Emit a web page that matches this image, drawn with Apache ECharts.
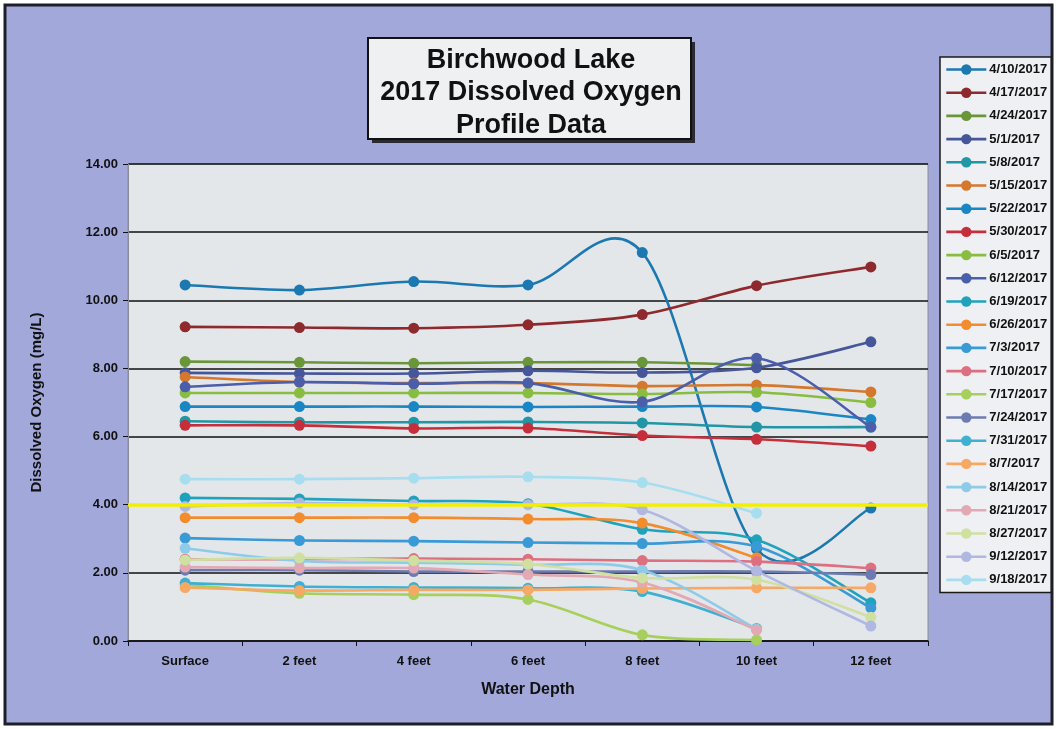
<!DOCTYPE html>
<html>
<head>
<meta charset="utf-8">
<script src="https://cdn.jsdelivr.net/npm/echarts@6/dist/echarts.min.js"></script>
<style>
  html, body { margin: 0; padding: 0; background: #ffffff; }
  #chart { width: 1056px; height: 729px; }
</style>
</head>
<body>
<div id="chart"></div>
<script>
// Sampling depths
const depths = ['Surface', '2 feet', '4 feet', '6 feet', '8 feet', '10 feet', '12 feet'];
const yTicks = [0, 2, 4, 6, 8, 10, 12, 14];

// Dissolved oxygen (mg/L) per sampling date, surface to 12 feet
const do_0410 = [10.45, 10.3, 10.55, 10.45, 11.4, 2.7, 3.9];
const do_0417 = [9.22, 9.2, 9.18, 9.28, 9.58, 10.43, 10.98];
const do_0424 = [8.2, 8.18, 8.15, 8.18, 8.18, 8.1, null];
const do_0501 = [7.87, 7.85, 7.85, 7.93, 7.88, 8.02, 8.78];
const do_0508 = [6.45, 6.42, 6.42, 6.43, 6.4, 6.28, 6.28];
const do_0515 = [7.75, 7.6, 7.57, 7.57, 7.48, 7.51, 7.31];
const do_0522 = [6.88, 6.88, 6.88, 6.87, 6.88, 6.87, 6.5];
const do_0530 = [6.33, 6.33, 6.24, 6.25, 6.03, 5.92, 5.72];
const do_0605 = [7.28, 7.28, 7.28, 7.28, 7.25, 7.3, 7.0];
const do_0612 = [7.46, 7.6, 7.55, 7.57, 7.02, 8.3, 6.28];
const do_0619 = [4.2, 4.17, 4.11, 4.03, 3.28, 2.97, 1.12];
const do_0626 = [3.62, 3.62, 3.62, 3.58, 3.46, 2.44, null];
const do_0703 = [3.02, 2.95, 2.93, 2.89, 2.86, 2.77, 0.97];
const do_0710 = [2.4, 2.4, 2.42, 2.4, 2.36, 2.33, 2.14];
const do_0717 = [1.65, 1.4, 1.36, 1.22, 0.18, 0.03, null];
const do_0724 = [2.08, 2.08, 2.04, 2.04, 2.04, 2.04, 1.95];
const do_0731 = [1.7, 1.6, 1.57, 1.55, 1.45, 0.37, null];
const do_0807 = [1.57, 1.48, 1.5, 1.5, 1.54, 1.56, 1.56];
const do_0814 = [2.72, 2.35, 2.3, 2.24, 2.08, 0.35, null];
const do_0821 = [2.17, 2.14, 2.14, 1.95, 1.72, 0.32, null];
const do_0827 = [2.38, 2.44, 2.36, 2.26, 1.85, 1.8, 0.7];
const do_0912 = [3.95, 4.05, 4.0, 4.0, 3.85, 2.06, 0.44];
const do_0918 = [4.75, 4.75, 4.78, 4.82, 4.65, 3.75, null];

const dates = ['4/10/2017', '4/17/2017', '4/24/2017', '5/1/2017', '5/8/2017', '5/15/2017',
  '5/22/2017', '5/30/2017', '6/5/2017', '6/12/2017', '6/19/2017', '6/26/2017', '7/3/2017',
  '7/10/2017', '7/17/2017', '7/24/2017', '7/31/2017', '8/7/2017', '8/14/2017', '8/21/2017',
  '8/27/2017', '9/12/2017', '9/18/2017'];
const profiles = [do_0410, do_0417, do_0424, do_0501, do_0508, do_0515, do_0522, do_0530,
  do_0605, do_0612, do_0619, do_0626, do_0703, do_0710, do_0717, do_0724, do_0731, do_0807,
  do_0814, do_0821, do_0827, do_0912, do_0918];
const colors = ['#1b78b0', '#8e2a2e', '#6a963a', '#46569a', '#2196a6', '#d4782e', '#1a86c4',
  '#c42f3b', '#89bd40', '#4a5eaa', '#1fa3bc', '#f28c2c', '#3a9ad6', '#de6f80', '#a6cf5c',
  '#6c7cb2', '#3fb0d2', '#f7a865', '#8ecbe8', '#e2a9b2', '#cfe0a0', '#b0b8e2', '#a6def0'];

// Low-oxygen threshold
const threshold = 4.0;

const FONT = '"Liberation Sans", Arial, sans-serif';
const LINE_W = 2.6;

// Smoothed profile curve: one cubic Bezier per depth interval, with
// Catmull-Rom style tangents ((next - prev) / 6) like a spreadsheet spline.
function curveSeries(vals, i) {
  const segs = [];
  for (let j = 0; j < vals.length - 1; j++) {
    if (vals[j] != null && vals[j + 1] != null) segs.push([j, vals[j], vals[j + 1]]);
  }
  return {
    name: dates[i],
    type: 'custom',
    silent: true,
    z: 2 + i * 0.02,
    data: segs,
    encode: { x: 0, y: [1, 2] },
    renderItem: function (params, api) {
      const j = api.value(0);
      const pt = k => api.coord([k, vals[k]]);
      const p1 = pt(j), p2 = pt(j + 1);
      const p0 = (j > 0 && vals[j - 1] != null) ? pt(j - 1) : p1;
      const p3 = (j + 2 < vals.length && vals[j + 2] != null) ? pt(j + 2) : p2;
      return {
        type: 'bezierCurve',
        shape: {
          x1: p1[0], y1: p1[1], x2: p2[0], y2: p2[1],
          cpx1: p1[0] + (p2[0] - p0[0]) / 6, cpy1: p1[1] + (p2[1] - p0[1]) / 6,
          cpx2: p2[0] - (p3[0] - p1[0]) / 6, cpy2: p2[1] - (p3[1] - p1[1]) / 6
        },
        style: { stroke: colors[i], lineWidth: LINE_W, fill: null, lineCap: 'round' }
      };
    }
  };
}

// Markers for each sampled depth (line stroke hidden, curve drawn above)
function markerSeries(vals, i) {
  return {
    name: dates[i],
    type: 'line',
    data: vals,
    symbol: 'circle',
    symbolSize: 11,
    lineStyle: { width: LINE_W, color: colors[i], opacity: 0 },
    itemStyle: { color: colors[i] },
    emphasis: { disabled: true },
    z: 2 + i * 0.02 + 0.01
  };
}

const series = [];
profiles.forEach((vals, i) => series.push(markerSeries(vals, i)));
profiles.forEach((vals, i) => series.push(curveSeries(vals, i)));

// Yellow reference line at the threshold
series[0].markLine = {
  silent: true,
  symbol: ['none', 'none'],
  label: { show: false },
  lineStyle: { color: '#f4ee00', width: 3.5, type: 'solid', opacity: 1 },
  data: [{ yAxis: threshold }],
  z: 5
};

const chart = echarts.init(document.getElementById('chart'), null, { renderer: 'canvas' });
chart.setOption({
  animation: false,
  textStyle: { fontFamily: FONT },
  graphic: [
    {
      type: 'rect', z: -10, silent: true,
      shape: { x: 5, y: 5, width: 1047, height: 719 },
      style: { fill: '#a3a8db', stroke: '#1e1e28', lineWidth: 3 }
    },
    {
      type: 'rect', z: 10, silent: true,
      shape: { x: 372, y: 42, width: 323, height: 101 },
      style: { fill: '#2a2a34' }
    },
    {
      type: 'rect', z: 11, silent: true,
      shape: { x: 368, y: 38, width: 323, height: 101 },
      style: { fill: '#eef0f2', stroke: '#111', lineWidth: 2 }
    },
    {
      type: 'text', z: 12, silent: true,
      x: 531, y: 44,
      style: {
        text: 'Birchwood Lake\n2017 Dissolved Oxygen\nProfile Data',
        font: 'bold 27px ' + FONT,
        fill: '#111',
        align: 'center',
        verticalAlign: 'top',
        lineHeight: 32.5
      }
    }
  ],
  color: colors,
  legend: {
    orient: 'vertical',
    left: 940,
    top: 57,
    width: 112,
    itemWidth: 40,
    itemHeight: 13,
    itemGap: 10.2,
    padding: [6, 4, 6, 5],
    backgroundColor: '#eef0f3',
    borderColor: '#1a1a1a',
    borderWidth: 1.5,
    lineStyle: { opacity: 1, width: LINE_W },
    textStyle: { fontFamily: FONT, fontWeight: 'bold', fontSize: 13, color: '#111', padding: [0, 0, 0, -2] },
    data: dates
  },
  grid: {
    left: 128, right: 128, top: 164, bottom: 88,
    show: true,
    backgroundColor: '#e4e7ea',
    borderColor: '#8a8d95',
    borderWidth: 1
  },
  xAxis: {
    type: 'category',
    data: depths,
    boundaryGap: true,
    name: 'Water Depth',
    nameLocation: 'middle',
    nameGap: 41,
    nameTextStyle: { fontFamily: FONT, fontWeight: 'bold', fontSize: 16, color: '#111' },
    axisLine: { lineStyle: { color: '#111', width: 1.5 } },
    axisTick: { show: true, length: 5, lineStyle: { color: '#111' } },
    axisLabel: { fontFamily: FONT, fontWeight: 'bold', fontSize: 13, color: '#111', margin: 14 },
    splitLine: { show: false }
  },
  yAxis: {
    type: 'value',
    min: yTicks[0],
    max: yTicks[yTicks.length - 1],
    interval: 2,
    name: 'Dissolved Oxygen (mg/L)',
    nameLocation: 'middle',
    nameGap: 84,
    nameTextStyle: { fontFamily: FONT, fontWeight: 'bold', fontSize: 15, color: '#111' },
    axisLine: { show: true, lineStyle: { color: '#8a8d95', width: 1 } },
    axisTick: { show: true, length: 5, lineStyle: { color: '#111' } },
    axisLabel: {
      fontFamily: FONT, fontWeight: 'bold', fontSize: 13, color: '#111', margin: 10,
      formatter: v => v.toFixed(2)
    },
    splitLine: { show: true, lineStyle: { color: '#111', width: 1.5 } }
  },
  series: series
});
</script>
</body>
</html>
